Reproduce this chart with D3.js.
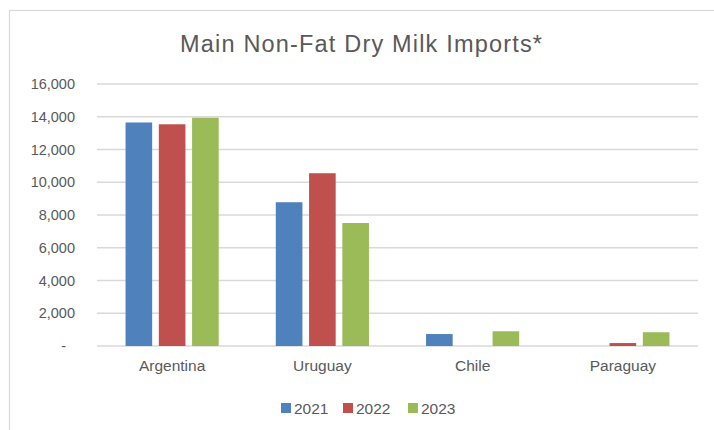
<!DOCTYPE html>
<html>
<head>
<meta charset="utf-8">
<script src="https://cdn.jsdelivr.net/npm/d3@7"></script>
<style>
  html, body { margin: 0; padding: 0; background: #fff; }
  svg { display: block; }
  text { font-family: "Liberation Sans", Arial, sans-serif; fill: #595959; }
</style>
</head>
<body>
<div id="chart"></div>
<script>
// Non-fat dry milk imports by origin country, 2021-2023
const countries = ["Argentina", "Uruguay", "Chile", "Paraguay"];
const years = ["2021", "2022", "2023"];
const values2021 = [13650, 8780, 730, 0];
const values2022 = [13540, 10550, 0, 180];
const values2023 = [13940, 7510, 900, 840];
const yTicks = [0, 2000, 4000, 6000, 8000, 10000, 12000, 14000, 16000];
const colors = ["#4F81BD", "#C0504D", "#9BBB59"];

const seriesValues = [values2021, values2022, values2023];

const W = 714, H = 430;
const margin = { top: 84, right: 16, bottom: 84, left: 97 };
const innerW = W - margin.left - margin.right;
const innerH = H - margin.top - margin.bottom;

const svg = d3.select("#chart").append("svg")
  .attr("width", W).attr("height", H);

// chart area frame
svg.append("rect")
  .attr("x", 9.5).attr("y", 10.5)
  .attr("width", W + 20).attr("height", H + 20)
  .attr("fill", "none").attr("stroke", "#d9d9d9").attr("stroke-width", 1.2);

svg.append("text")
  .attr("x", 361).attr("y", 52)
  .attr("text-anchor", "middle")
  .attr("textLength", 362)
  .attr("lengthAdjust", "spacing")
  .style("font-size", "23.5px")
  .text("Main Non-Fat Dry Milk Imports*");

const g = svg.append("g").attr("transform", `translate(${margin.left},${margin.top})`);

const x0 = d3.scaleBand().domain(countries).range([0, innerW]).paddingInner(0.38).paddingOuter(0.19);
const x1 = d3.scaleBand().domain(years).range([0, x0.bandwidth()]).paddingInner(0.2);
const y = d3.scaleLinear().domain([0, 16000]).range([innerH, 0]);

// horizontal gridlines
g.append("g")
  .selectAll("line").data(yTicks).join("line")
  .attr("x1", 0).attr("x2", innerW)
  .attr("y1", d => y(d)).attr("y2", d => y(d))
  .attr("stroke", "#d9d9d9").attr("stroke-width", 1.3);

// y axis labels
const yAxis = d3.axisLeft(y).tickValues(yTicks)
  .tickSize(0).tickPadding(22)
  .tickFormat(d => d === 0 ? "-" : d3.format(",")(d));
const ya = g.append("g").call(yAxis);
ya.select(".domain").remove();
ya.selectAll("text").style("font-size", "14.5px").style("font-family", "Liberation Sans, Arial, sans-serif").attr("fill", "#595959");
ya.selectAll(".tick").filter(d => d === 0).select("text").attr("dx", "-9px");

// x axis labels
const xAxis = d3.axisBottom(x0).tickSize(0).tickPadding(14);
const xa = g.append("g").attr("transform", `translate(0,${innerH})`).call(xAxis);
xa.select(".domain").remove();
xa.selectAll("text").style("font-size", "15.5px").style("font-family", "Liberation Sans, Arial, sans-serif").attr("fill", "#595959");

// bars
const groups = g.append("g").selectAll("g").data(countries).join("g")
  .attr("transform", c => `translate(${x0(c)},0)`);
groups.selectAll("rect")
  .data((c, ci) => years.map((yr, si) => ({ yr, si, v: seriesValues[si][ci] })))
  .join("rect")
  .filter(d => d.v > 0)
  .attr("x", d => x1(d.yr))
  .attr("width", x1.bandwidth())
  .attr("y", d => y(d.v))
  .attr("height", d => y(0) - y(d.v))
  .attr("fill", d => colors[d.si]);

// legend
const legend = svg.append("g").attr("transform", "translate(281,408)");
const items = legend.selectAll("g").data(years).join("g")
  .attr("transform", (d, i) => `translate(${[0, 62, 127][i]},0)`);
items.append("rect").attr("x", 0).attr("y", -5).attr("width", 10).attr("height", 10)
  .attr("fill", (d, i) => colors[i]);
items.append("text").attr("x", 13).attr("y", 5.5)
  .style("font-size", "15.5px").text(d => d);
</script>
</body>
</html>
